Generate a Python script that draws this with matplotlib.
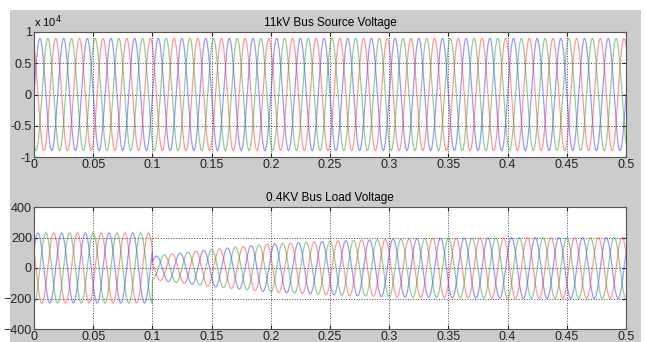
import numpy as np
import matplotlib.pyplot as plt

plt.rcParams['font.family'] = ['Liberation Sans', 'DejaVu Sans']

# sistem 50 Hz, tiga fasa
freq = 50.0
fasa_src = [0, 120, -120]          # derajat: biru, merah, hijau
fasa_load = [30, 150, -90]         # sisi beban bergeser 30 derajat
warna = ['#3333ff', '#ff3333', '#2e9b2e']

# amplitudo puncak sumber 11 kV
amp_src = 8981.0

# selubung amplitudo tegangan beban 0.4 kV (titik)
t_env = [0.0, 0.0999, 0.1, 0.12, 0.15, 0.2, 0.25, 0.3, 0.35, 0.4, 0.5]
a_env = [230, 230, 75, 95, 122, 158, 176, 189, 195, 199, 200]

xticks = [0, 0.05, 0.1, 0.15, 0.2, 0.25, 0.3, 0.35, 0.4, 0.45, 0.5]
xlabels = ['0', '0.05', '0.1', '0.15', '0.2', '0.25', '0.3', '0.35', '0.4', '0.45', '0.5']
yticks_src = [-1, -0.5, 0, 0.5, 1]
ylabels_src = ['-1', '-0.5', '0', '0.5', '1']
yticks_load = [-400, -200, 0, 200, 400]

t = np.linspace(0, 0.5, 10001)
w = 2 * np.pi * freq
env_load = np.interp(t, t_env, a_env)

fig = plt.figure(figsize=(6.46, 3.42), dpi=100)
fig.patch.set_facecolor('white')

# latar abu-abu ala jendela scope
bg = fig.add_axes([10 / 646, 0, 631 / 646, 332 / 342], zorder=-1)
bg.set_facecolor('#cccccc')
bg.set_xticks([])
bg.set_yticks([])
for s in bg.spines.values():
    s.set_visible(False)

ax1 = fig.add_axes([34 / 646, 1 - 157 / 342, 592 / 646, 125 / 342])
ax2 = fig.add_axes([34 / 646, 1 - 329 / 342, 592 / 646, 122 / 342])

for ph, c in zip(fasa_src, warna):
    v = amp_src * np.sin(w * t + np.deg2rad(ph))
    ax1.plot(t, v / 1e4, color=c, lw=0.9, alpha=0.5)

for ph, c in zip(fasa_load, warna):
    v = env_load * np.sin(w * t + np.deg2rad(ph))
    ax2.plot(t, v, color=c, lw=0.9, alpha=0.5)

ax1.set_ylim(-1, 1)
ax1.set_yticks(yticks_src)
ax1.set_yticklabels(ylabels_src)
ax1.set_title('11kV Bus Source Voltage', fontsize=8.5, pad=4)
ax1.text(0, 1.02, r'x 10$^4$', transform=ax1.transAxes, fontsize=8,
         ha='left', va='bottom')

ax2.set_ylim(-400, 400)
ax2.set_yticks(yticks_load)
ax2.set_title('0.4KV Bus Load Voltage', fontsize=8.5, pad=4)

for ax in (ax1, ax2):
    ax.set_xlim(0, 0.5)
    ax.set_xticks(xticks)
    ax.set_xticklabels(xlabels)
    ax.set_facecolor('white')
    ax.grid(True, ls=':', color='#444444', lw=0.7)
    ax.tick_params(direction='in', labelsize=9, length=3, pad=1.5,
                   top=True, right=True, colors='#222222')
    for s in ax.spines.values():
        s.set_color('#555555')
        s.set_linewidth(0.8)

fig.savefig('out.png', dpi=100, facecolor=fig.get_facecolor())
